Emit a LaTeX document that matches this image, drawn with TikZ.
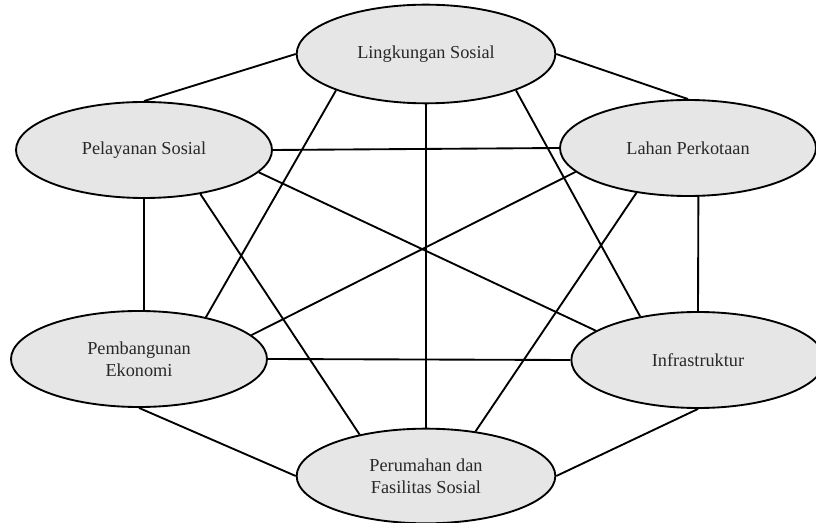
\documentclass[tikz,border=0pt]{standalone}
\usepackage{fontspec}
\setmainfont{Liberation Serif}
\usepackage{tikz}
\usetikzlibrary{shapes.geometric}
\definecolor{bubblegray}{RGB}{230,230,230}
\definecolor{bubbletext}{RGB}{40,40,40}
\tikzset{
  bubble/.style={
    ellipse, draw=black, line width=1.4pt, fill=bubblegray,
    inner sep=0pt, minimum width=192pt, minimum height=72pt,
    align=center, text=bubbletext,
    font=\fontsize{13.7}{16.5}\selectfont
  },
  link/.style={draw=black, line width=1.4pt}
}

\begin{document}
\begin{tikzpicture}[x=0.75pt, y=-0.75pt]
\useasboundingbox (0,0) rectangle (816,523);

% -------- SIX DOMAINS (hexagon) --------
\node[bubble, minimum width=194pt, minimum height=74pt] (ling) at (426,54) {Lingkungan Sosial};
\node[bubble] (pel) at (144,150) {Pelayanan Sosial};
\node[bubble] (lahan) at (688,148) {Lahan Perkotaan};
\node[bubble] (pem) at (139,359) {Pembangunan\\Ekonomi};
\node[bubble, minimum width=190pt] (infra) at (698,360) {Infrastruktur};
\node[bubble, minimum width=194pt, minimum height=71pt] (rumah) at (426,476) {Perumahan dan\\Fasilitas Sosial};

% -------- OUTER RING --------
\foreach \a/\b in {pel.north/ling.west, ling.east/lahan.north, lahan.-78/infra.north,
                   infra.south/rumah.east, rumah.west/pem.south}
  \draw[link] (\a) -- (\b);
\draw[link] (pel.south) -- (pel.south |- pem.north);

% -------- CROSS LINKS --------
\foreach \a/\b in {pel.east/lahan.west, pem.east/infra.west, ling.south/rumah.north,
                   ling.202/pem.32, ling.338/infra.143,
                   pel.-11/infra.164.6, pel.-38.8/rumah.148.5,
                   lahan.192/pem.12, lahan.221/rumah.42}
  \draw[link] (\a) -- (\b);

\end{tikzpicture}
\end{document}
